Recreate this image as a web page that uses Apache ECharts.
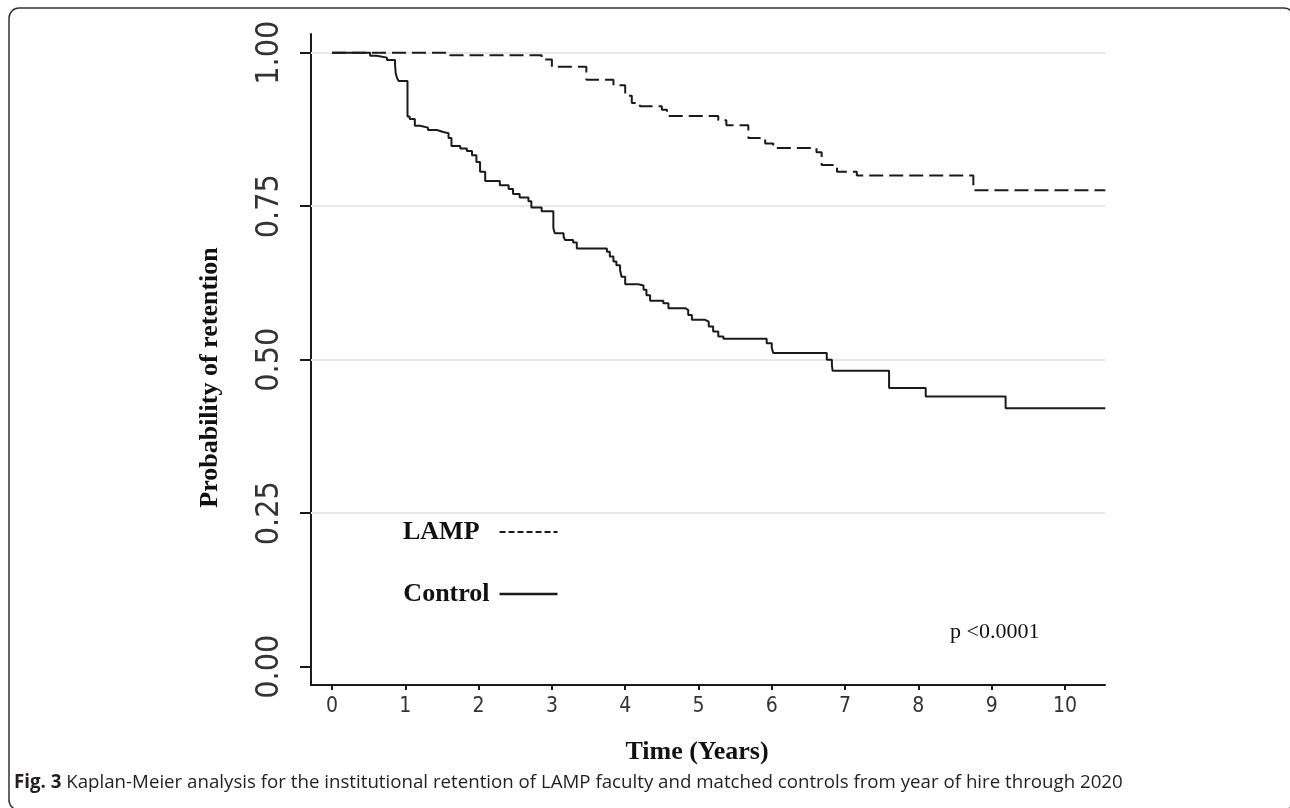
<!DOCTYPE html>
<html>
<head>
<meta charset="utf-8">
<title>Kaplan-Meier retention of LAMP faculty</title>
<script src="https://cdn.jsdelivr.net/npm/echarts@6/dist/echarts.min.js"></script>
<style>
  html, body { margin: 0; padding: 0; background: #fff; }
  #chart { width: 1290px; height: 808px; }
</style>
</head>
<body>
<div id="chart"></div>
<script>
// KM steps: time in years, probability of retention after the drop
const controlTimes = [0, 0.52, 0.61, 0.75, 0.86, 0.87, 0.89, 0.91, 1.03, 1.06, 1.13, 1.20, 1.31, 1.43, 1.52, 1.59, 1.63, 1.75, 1.84, 1.91, 1.97, 2.02, 2.09, 2.29, 2.41, 2.47, 2.56, 2.68, 2.72, 2.86, 3.02, 3.04, 3.16, 3.18, 3.29, 3.34, 3.75, 3.79, 3.84, 3.88, 3.93, 3.95, 4.00, 4.18, 4.25, 4.29, 4.34, 4.52, 4.59, 4.82, 4.86, 4.91, 5.09, 5.14, 5.20, 5.27, 5.34, 5.93, 6.00, 6.02, 6.75, 6.82, 6.83, 7.60, 8.10, 9.19, 10.55];
const controlSurv = [1, 0.995, 0.992, 0.988, 0.980, 0.966, 0.958, 0.954, 0.896, 0.892, 0.881, 0.878, 0.874, 0.871, 0.869, 0.861, 0.848, 0.844, 0.840, 0.833, 0.822, 0.806, 0.791, 0.784, 0.778, 0.770, 0.764, 0.758, 0.748, 0.742, 0.714, 0.706, 0.700, 0.695, 0.691, 0.681, 0.676, 0.668, 0.660, 0.654, 0.646, 0.635, 0.623, 0.621, 0.614, 0.605, 0.596, 0.592, 0.584, 0.581, 0.573, 0.565, 0.562, 0.554, 0.546, 0.538, 0.534, 0.527, 0.519, 0.511, 0.500, 0.491, 0.482, 0.454, 0.440, 0.421, 0.421];

const lampTimes = [0, 1.61, 2.86, 3.00, 3.47, 3.84, 4.00, 4.09, 4.20, 4.50, 4.57, 5.27, 5.38, 5.68, 5.91, 6.02, 6.61, 6.68, 6.89, 7.16, 8.75, 10.55];
const lampSurv = [1, 0.996, 0.989, 0.977, 0.956, 0.947, 0.930, 0.918, 0.913, 0.907, 0.897, 0.890, 0.882, 0.861, 0.852, 0.845, 0.838, 0.817, 0.806, 0.800, 0.776, 0.776];

const xTicks = [0, 1, 2, 3, 4, 5, 6, 7, 8, 9, 10];
const yTicks = [0, 0.25, 0.5, 0.75, 1];
const gridValues = [0.25, 0.5, 0.75, 1];

const serif = "'Liberation Serif', 'Times New Roman', serif";
const tickFont = "'DejaVu Sans Condensed', 'Liberation Sans Narrow', 'Noto Sans', sans-serif";

const toPairs = (ts, ss) => ts.map((t, i) => [t, ss[i]]);

const chart = echarts.init(document.getElementById('chart'));

const option = {
  animation: false,
  backgroundColor: '#fff',
  grid: { left: 311, right: 185, top: 34, bottom: 123 },
  xAxis: {
    type: 'value',
    min: -0.2865,
    max: 10.546,
    name: 'Time (Years)',
    nameLocation: 'middle',
    nameGap: 54,
    nameTextStyle: { fontFamily: serif, fontWeight: 'bold', fontSize: 26, color: '#111', padding: [0, 22, 0, 0] },
    axisLine: { onZero: false, lineStyle: { color: '#1a1a1a', width: 2 } },
    axisTick: { customValues: xTicks, length: 5, lineStyle: { color: '#1a1a1a', width: 2 } },
    axisLabel: { customValues: xTicks, margin: 11, fontFamily: tickFont, fontSize: 21, color: '#333' },
    splitLine: { show: false }
  },
  yAxis: {
    type: 'value',
    min: -0.0298,
    max: 1.0305,
    name: 'Probability of retention',
    nameLocation: 'middle',
    nameGap: 88,
    nameTextStyle: { fontFamily: serif, fontWeight: 'bold', fontSize: 26, color: '#111', padding: [0, 36, 0, 0] },
    axisLine: { show: true, onZero: false, lineStyle: { color: '#1a1a1a', width: 2 } },
    axisTick: { show: true, customValues: yTicks, length: 11, lineStyle: { color: '#1a1a1a', width: 2 } },
    axisLabel: {
      customValues: yTicks,
      rotate: 90,
      margin: 25,
      formatter: (v) => v.toFixed(2),
      fontFamily: tickFont,
      fontSize: 32,
      color: '#333'
    },
    splitLine: { show: false }
  },
  legend: {
    orient: 'vertical',
    left: 403,
    top: 519,
    padding: 0,
    align: 'right',
    itemWidth: 58,
    itemHeight: 14,
    itemGap: 36,
    selectedMode: false,
    itemStyle: { opacity: 0 },
    textStyle: { fontFamily: serif, fontWeight: 'bold', fontSize: 26, color: '#111' },
    data: [
      { name: 'LAMP', lineStyle: { type: [6, 3], width: 2 }, textStyle: { padding: [0, 15, 0, 0] } },
      { name: 'Control', lineStyle: { type: 'solid', width: 2.5 }, textStyle: { padding: [0, 5, 0, 0] } }
    ]
  },
  graphic: [
    {
      // page frame, only the top and left edges fall inside the picture
      type: 'rect',
      silent: true,
      shape: { x: 9, y: 8, width: 1285, height: 802, r: 10 },
      style: { fill: 'none', stroke: '#333', lineWidth: 1.5 }
    },
    {
      type: 'text',
      left: 950,
      top: 621,
      style: { text: 'p <0.0001', fontFamily: serif, fontSize: 22, fill: '#111' }
    },
    {
      type: 'text',
      left: 14,
      top: 773,
      style: {
        text: '{b|Fig. 3} Kaplan-Meier analysis for the institutional retention of LAMP faculty and matched controls from year of hire through 2020',
        fontFamily: "'Open Sans', 'Noto Sans', sans-serif",
        fontSize: 18.7,
        fill: '#231f20',
        rich: {
          b: { fontFamily: "'Open Sans', 'Noto Sans', sans-serif", fontWeight: 'bold', fontSize: 18.7, fill: '#231f20' }
        }
      }
    }
  ],
  series: [
    {
      // light reference lines at the labelled probabilities
      name: 'grid',
      type: 'line',
      data: [],
      silent: true,
      markLine: {
        z: 1,
        silent: true,
        symbol: 'none',
        label: { show: false },
        lineStyle: { color: '#e8e8e8', width: 2, type: 'solid' },
        data: gridValues.map(v => ({ yAxis: v }))
      }
    },
    {
      name: 'LAMP',
      type: 'line',
      step: 'end',
      symbol: 'none',
      z: 3,
      data: toPairs(lampTimes, lampSurv),
      lineStyle: { color: '#1a1a1a', width: 2, type: [14, 6] },
      itemStyle: { color: '#1a1a1a' }
    },
    {
      name: 'Control',
      type: 'line',
      step: 'end',
      symbol: 'none',
      z: 4,
      data: toPairs(controlTimes, controlSurv),
      lineStyle: { color: '#1a1a1a', width: 2 },
      itemStyle: { color: '#1a1a1a' }
    }
  ]
};

chart.setOption(option);
window.addEventListener('resize', () => chart.resize());
</script>
</body>
</html>
